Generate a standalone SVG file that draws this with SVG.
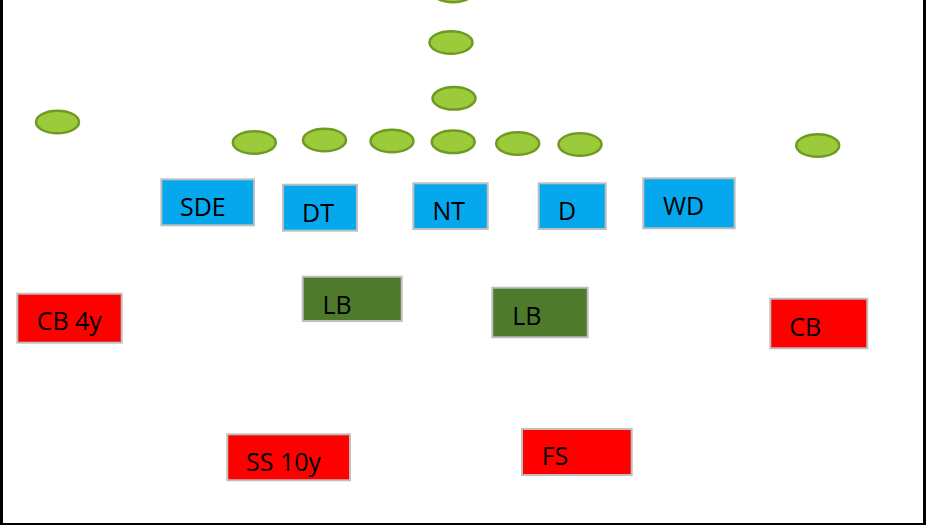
<svg xmlns="http://www.w3.org/2000/svg" width="926" height="525" viewBox="0 0 926 525">
<style>
.p{fill:#9bca3b;stroke:#6f9a22;stroke-width:2.5}
.b{stroke:#bfbfbf;stroke-width:2}
.blue{fill:#05a8ec}
.lb{fill:#4e7a2c}
.red{fill:#ff0000}
text{font-family:"Open Sans","Noto Sans",sans-serif;font-size:25px;fill:#000}
</style>
<rect x="0" y="0" width="926" height="525" fill="#ffffff"/>
<g id="frame">
<rect x="0" y="0" width="3" height="525" fill="#000"/>
<rect x="0" y="523" width="926" height="2" fill="#000"/>
<rect x="923" y="0" width="3" height="525" fill="#000"/>
</g>
<g id="connectors"></g>
<g id="offense">
<ellipse id="o1" class="p" cx="453" cy="-9" rx="21.5" ry="11.3"/>
<ellipse id="o2" class="p" cx="451" cy="42.5" rx="21.5" ry="11.3"/>
<ellipse id="o3" class="p" cx="454" cy="98.3" rx="21.5" ry="11.3"/>
<ellipse id="o4" class="p" cx="453.2" cy="141.8" rx="21.5" ry="11.3"/>
<ellipse id="o5" class="p" cx="517.7" cy="143.5" rx="21.5" ry="11.3"/>
<ellipse id="o6" class="p" cx="580" cy="144.5" rx="21.5" ry="11.3"/>
<ellipse id="o7" class="p" cx="392" cy="141" rx="21.5" ry="11.3"/>
<ellipse id="o8" class="p" cx="324.5" cy="140" rx="21.5" ry="11.3"/>
<ellipse id="o9" class="p" cx="254.3" cy="142.5" rx="21.5" ry="11.3"/>
<ellipse id="o10" class="p" cx="57.5" cy="122" rx="21.5" ry="11.3"/>
<ellipse id="o11" class="p" cx="817.7" cy="145.5" rx="21.5" ry="11.3"/>
</g>
<g id="SDE"><rect class="b blue" x="161.3" y="179.3" width="92.7" height="46"/><text x="180" y="216">SDE</text></g>
<g id="DT"><rect class="b blue" x="283" y="184.7" width="74" height="46"/><text x="302" y="221.5">DT</text></g>
<g id="NT"><rect class="b blue" x="413.3" y="183.3" width="74.4" height="45.7"/><text x="432.5" y="220">NT</text></g>
<g id="D"><rect class="b blue" x="538.7" y="183.3" width="67" height="45.7"/><text x="558" y="220">D</text></g>
<g id="WD"><rect class="b blue" x="643.3" y="178.3" width="91.4" height="50"/><text x="663" y="215">WD</text></g>
<g id="LB1"><rect class="b lb" x="302.7" y="276.7" width="99" height="44.3"/><text x="322.5" y="313.7">LB</text></g>
<g id="LB2"><rect class="b lb" x="492.3" y="287.7" width="95.4" height="49.6"/><text x="512.3" y="325">LB</text></g>
<g id="CB4y"><rect class="b red" x="17.3" y="293.7" width="104.4" height="49"/><text x="36.7" y="330">CB 4y</text></g>
<g id="CB"><rect class="b red" x="770.3" y="298.7" width="97" height="49.6"/><text x="789.3" y="335.7">CB</text></g>
<g id="SS"><rect class="b red" x="227.3" y="434.3" width="122.7" height="46"/><text x="246" y="471">SS 10y</text></g>
<g id="FS"><rect class="b red" x="522" y="429" width="109.7" height="46"/><text x="541.7" y="465.3">FS</text></g>
</svg>
